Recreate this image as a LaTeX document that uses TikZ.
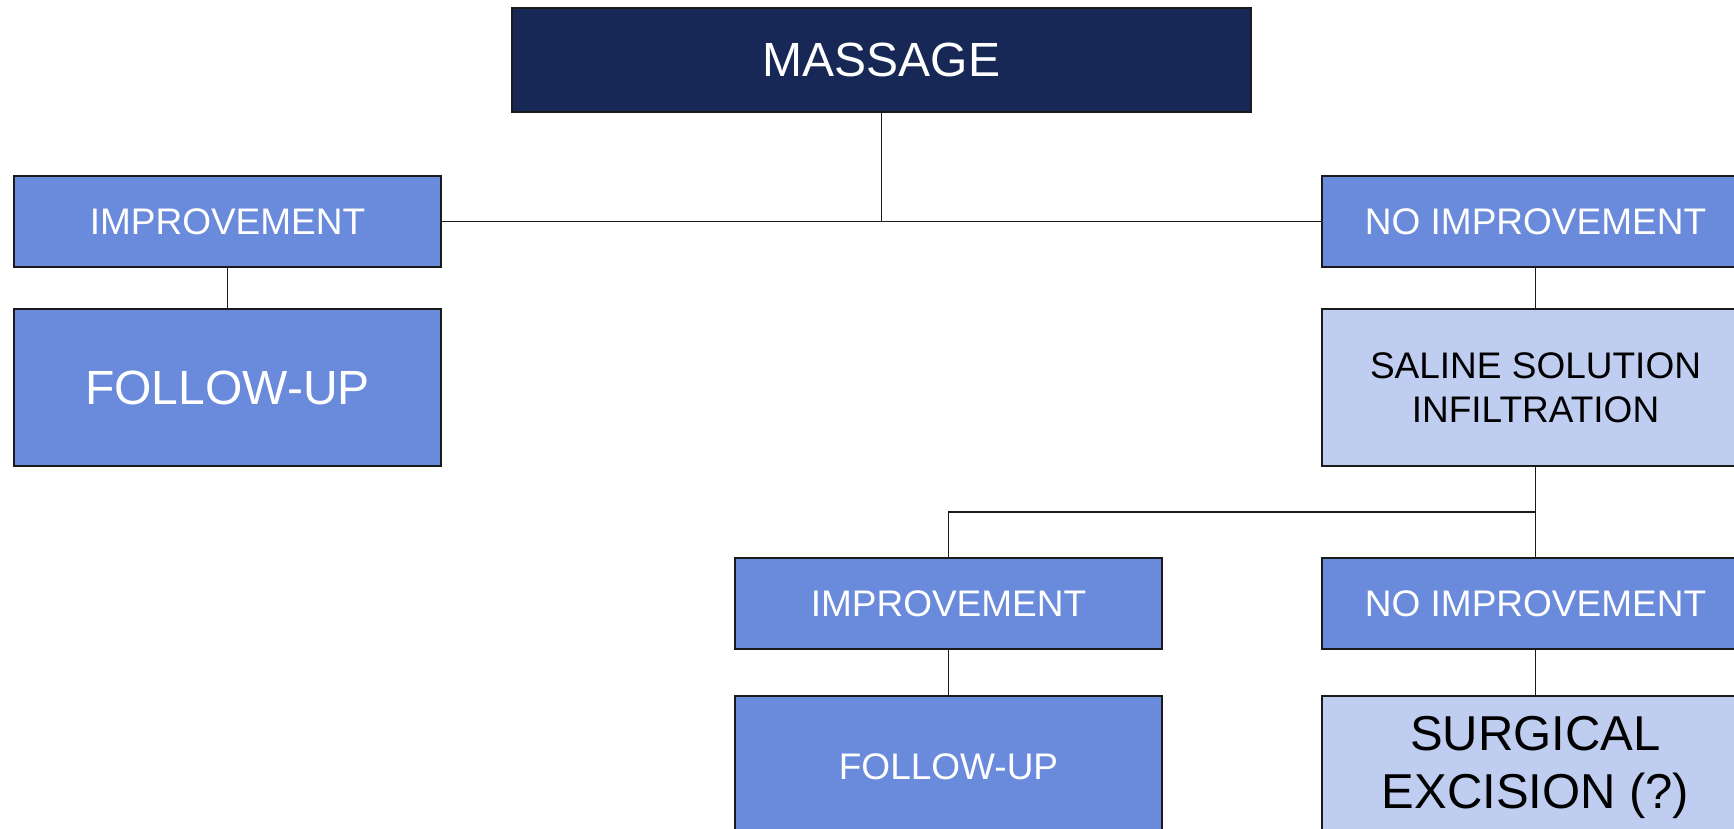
\documentclass[tikz,border=0pt]{standalone}
\usepackage{fontspec}
\setmainfont{Liberation Sans}
\usepackage{xcolor}
\usetikzlibrary{positioning}
\definecolor{navy}{HTML}{172856}
\definecolor{midblue}{HTML}{6A8ADC}
\definecolor{paleblue}{HTML}{BFCDF0}
\definecolor{edgegray}{HTML}{1A1A1A}
\tikzset{
	box/.style={draw=edgegray, line width=1pt, rectangle, inner sep=0pt,
			minimum width=213.5pt, align=center},
	outcome/.style={box, fill=midblue, text=white, minimum height=45.5pt,
			font=\fontsize{18.5}{22}\selectfont},
	stage/.style={box, fill=paleblue, text=black, minimum height=78.5pt,
			font=\fontsize{18.5}{22}\selectfont},
	link/.style={draw=edgegray, line width=0.85pt}
}

\begin{document}
\begin{tikzpicture}[x=0.5pt,y=-0.5pt]
		\useasboundingbox (0,0) rectangle (1734,829);
		\clip (0,0) rectangle (1734,829);
		% top of the tree
		\node[box, fill=navy, text=white, minimum width=369.5pt, minimum height=52pt,
			font=\fontsize{24}{28}\selectfont] (massage) at (881.5,60) {MASSAGE};
		% first outcome
		\node[outcome] (imp) at (227.5,221.5) {IMPROVEMENT};
		\node[outcome] (noimp) at (1535.5,221.5) {NO IMPROVEMENT};
		\node[box, fill=midblue, text=white, minimum height=78.5pt,
			font=\fontsize{24}{28}\selectfont] (follow) at (227.5,387.5) {FOLLOW-UP};
		\node[stage] (saline) at (1535.5,387.5) {SALINE SOLUTION\\INFILTRATION};
		% second outcome
		\node[outcome] (impb) at (948.5,603.5) {IMPROVEMENT};
		\node[outcome] (noimpb) at (1535.5,603.5) {NO IMPROVEMENT};
		\node[box, fill=midblue, text=white, minimum height=71pt,
			font=\fontsize{18.5}{22}\selectfont] (followb) at (948.5,767) {FOLLOW-UP};
		\node[stage, minimum height=71pt, font=\fontsize{24.5}{29}\selectfont]
			(surgery) at (1535.5,767) {SURGICAL\\EXCISION (?)};
		\coordinate (split) at (1535.5,512);

		\draw[link] (imp.east) -- (noimp.west);
		\draw[link] (massage.south) -- (massage.south |- imp.east);
		\draw[link] (imp.south) -- (follow.north);
		\draw[link] (noimp.south) -- (saline.north);
		\draw[link] (saline.south) -- (noimpb.north);
		\draw[link] (split) -| (impb.north);
		\draw[link] (impb.south) -- (followb.north);
		\draw[link] (noimpb.south) -- (surgery.north);
	\end{tikzpicture}
\end{document}
